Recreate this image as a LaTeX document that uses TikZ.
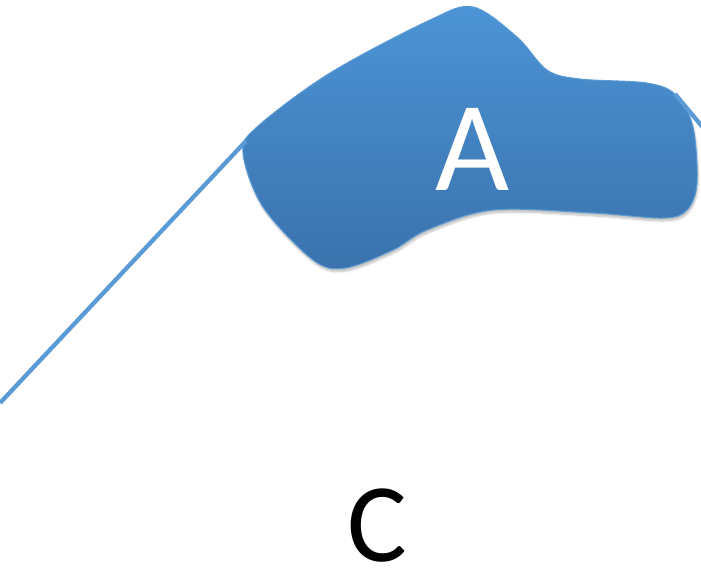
\documentclass[tikz,border=0pt]{standalone}
\usepackage{fontspec}
\setmainfont{Carlito}
\usetikzlibrary{shadows.blur}
\definecolor{lineblue}{RGB}{91,155,213}
\definecolor{blobtop}{RGB}{76,148,214}
\definecolor{blobbot}{RGB}{58,114,172}
\tikzset{
  conn/.style={draw=lineblue, line width=4.3pt},
  blob/.style={draw=lineblue, line width=1pt, top color=blobtop, bottom color=blobbot, blur shadow={shadow xshift=1pt, shadow yshift=-3pt, shadow blur steps=6, shadow opacity=25}},
  lbl/.style={inner sep=0pt, anchor=center}
}
\begin{document}
\begin{tikzpicture}[x=1pt,y=-1pt]
\useasboundingbox (0,0) rectangle (701,569);
\path[blob] plot[smooth cycle, tension=0.55] coordinates {
 (473,7) (517,37) (547,70) (580,79) (647,83) (676,95) (693,127) (697,183)
 (687,210) (663,218) (593,213) (493,210) (427,230) (393,250) (345,268)
 (313,260) (263,207) (243,153) (257,127) (330,73) (430,20)};
\node[lbl, text=white, font=\fontsize{128}{128}\selectfont] (A) at (473,149) {A};
\node[lbl, text=black, font=\fontsize{112}{112}\selectfont] (C) at (377,526) {C};
\coordinate (l1s) at (0,403);
\coordinate (l1e) at (246,141);
\coordinate (l2s) at (675,94);
\coordinate (l2e) at (705,130);
\draw[conn] (l1s) -- (l1e);
\draw[conn] (l2s) -- (l2e);
\end{tikzpicture}
\end{document}
